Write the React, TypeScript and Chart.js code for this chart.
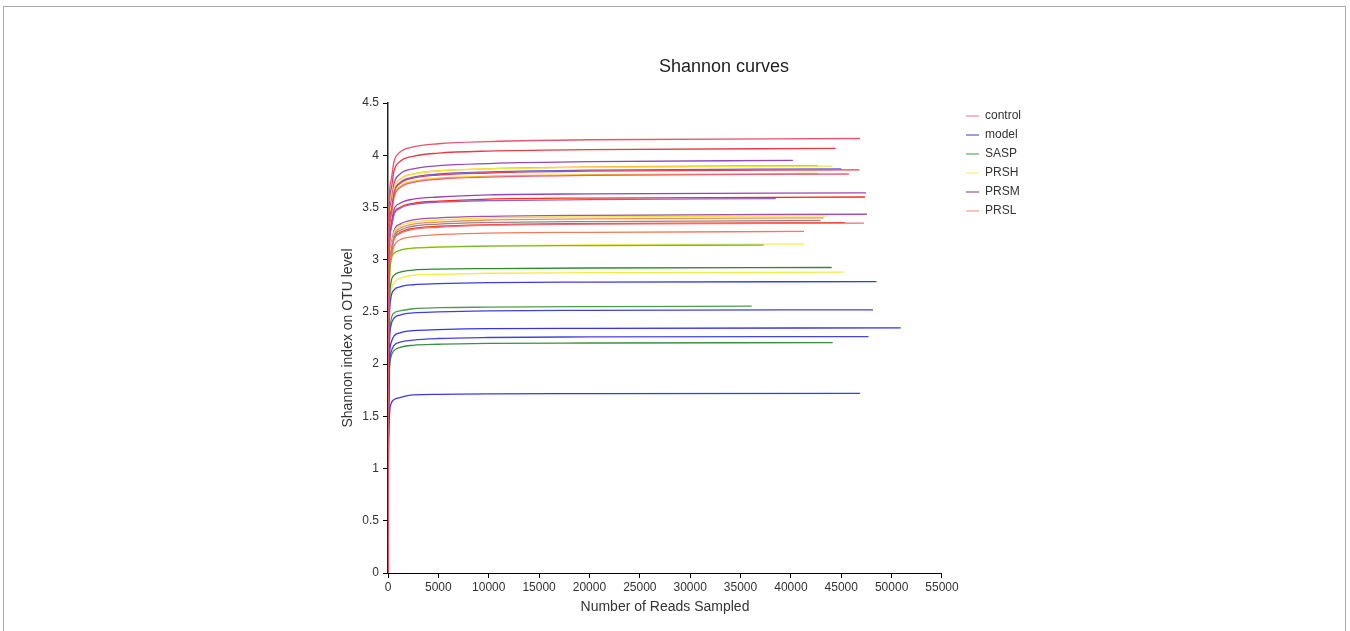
import React, { useEffect, useRef } from 'react';
import { Chart, registerables } from 'chart.js';

Chart.register(...registerables);

// ---------- data ----------
const groupNames = ['control', 'model', 'SASP', 'PRSH', 'PRSM', 'PRSL'];
const xTickValues = [0, 5000, 10000, 15000, 20000, 25000, 30000, 35000, 40000, 45000, 50000, 55000];
const yTickValues = [0, 0.5, 1, 1.5, 2, 2.5, 3, 3.5, 4, 4.5];

// rarefaction depths shared by every curve (the last point of each curve is its own depth)
const sampledReads = [0, 40, 120, 300, 600, 1200, 2500, 5000, 10000, 20000];

const controlDepth = [46850, 44450, 46800, 45750, 47250];
const controlShannon = [
  [0, 2.29, 3.54, 3.76, 3.94, 4.03, 4.08, 4.11, 4.13, 4.148, 4.16],
  [0, 2.24, 3.46, 3.67, 3.85, 3.94, 3.99, 4.02, 4.04, 4.053, 4.065],
  [0, 2.12, 3.28, 3.46, 3.64, 3.73, 3.78, 3.81, 3.83, 3.848, 3.86],
  [0, 2.1, 3.25, 3.42, 3.6, 3.69, 3.74, 3.77, 3.79, 3.808, 3.82],
  [0, 1.84, 2.85, 3.05, 3.19, 3.25, 3.29, 3.31, 3.33, 3.34, 3.35],
];

const modelDepth = [48500, 48150, 50900, 47700, 46850];
const modelShannon = [
  [0, 1.53, 2.37, 2.64, 2.71, 2.74, 2.76, 2.77, 2.78, 2.785, 2.79],
  [0, 1.39, 2.14, 2.37, 2.44, 2.47, 2.49, 2.5, 2.51, 2.515, 2.52],
  [0, 1.29, 2.0, 2.2, 2.27, 2.3, 2.32, 2.33, 2.34, 2.343, 2.347],
  [0, 1.25, 1.92, 2.11, 2.18, 2.21, 2.23, 2.245, 2.255, 2.26, 2.264],
  [0, 0.95, 1.46, 1.62, 1.66, 1.68, 1.705, 1.71, 1.715, 1.717, 1.72],
];

const saspDepth = [37300, 44050, 36100, 44150, 42950];
const saspShannon = [
  [0, 1.73, 2.67, 2.99, 3.06, 3.09, 3.11, 3.12, 3.13, 3.135, 3.14],
  [0, 1.61, 2.49, 2.78, 2.85, 2.88, 2.9, 2.91, 2.915, 2.92, 2.925],
  [0, 1.41, 2.17, 2.42, 2.49, 2.51, 2.53, 2.54, 2.545, 2.55, 2.555],
  [0, 1.21, 1.88, 2.07, 2.13, 2.16, 2.18, 2.19, 2.198, 2.202, 2.206],
  [0, 1.86, 2.87, 3.08, 3.22, 3.28, 3.32, 3.34, 3.355, 3.365, 3.375],
];

const prshDepth = [44150, 42650, 43650, 41300, 45250];
const prshShannon = [
  [0, 2.14, 3.31, 3.5, 3.68, 3.77, 3.82, 3.85, 3.87, 3.883, 3.895],
  [0, 2.1, 3.25, 3.43, 3.61, 3.7, 3.75, 3.78, 3.8, 3.813, 3.825],
  [0, 1.88, 2.91, 3.12, 3.26, 3.32, 3.36, 3.38, 3.4, 3.41, 3.42],
  [0, 1.73, 2.68, 2.98, 3.06, 3.09, 3.11, 3.125, 3.135, 3.143, 3.15],
  [0, 1.58, 2.45, 2.7, 2.78, 2.82, 2.85, 2.86, 2.87, 2.875, 2.88],
];

const prsmDepth = [40200, 45000, 47450, 38500, 47550];
const prsmShannon = [
  [0, 2.17, 3.36, 3.55, 3.73, 3.82, 3.87, 3.9, 3.92, 3.938, 3.95],
  [0, 2.13, 3.29, 3.47, 3.65, 3.74, 3.79, 3.82, 3.84, 3.858, 3.87],
  [0, 2.0, 3.09, 3.34, 3.48, 3.54, 3.58, 3.6, 3.62, 3.63, 3.64],
  [0, 1.97, 3.05, 3.29, 3.43, 3.49, 3.53, 3.55, 3.565, 3.575, 3.585],
  [0, 1.89, 2.92, 3.14, 3.28, 3.34, 3.38, 3.4, 3.415, 3.425, 3.435],
];

const prslDepth = [42650, 47350, 43250, 45350, 41300];
const prslShannon = [
  [0, 2.15, 3.32, 3.5, 3.68, 3.77, 3.82, 3.85, 3.87, 3.888, 3.9],
  [0, 1.98, 3.06, 3.3, 3.44, 3.5, 3.54, 3.56, 3.58, 3.59, 3.6],
  [0, 1.87, 2.89, 3.1, 3.24, 3.3, 3.34, 3.36, 3.38, 3.39, 3.4],
  [0, 1.85, 2.85, 3.06, 3.2, 3.26, 3.3, 3.32, 3.335, 3.345, 3.355],
  [0, 1.8, 2.78, 3.0, 3.13, 3.19, 3.22, 3.24, 3.255, 3.262, 3.27],
];

// ---------- styles ----------
const legendColors = ['#f08a90', '#5a5ad8', '#5faa5f', '#f4f07a', '#8a55b0', '#f4a080'];
const curveColors = [
  ['#e8546a', '#e83a48', '#e8404f', '#e8607a', '#e8707e'],
  ['#3c3ce6', '#4040e0', '#3434e8', '#4444dc', '#3a3ae4'],
  ['#7ab82a', '#2e8a2e', '#4c9e4c', '#3f8f3f', '#8a8a8a'],
  ['#f4e83a', '#f6c21c', '#f0e040', '#f6f05a', '#f4ea44'],
  ['#9548b8', '#6a5ae0', '#9a44b4', '#9a60c8', '#a050b0'],
  ['#ff9d1e', '#ff2a10', '#f08a66', '#ff3a1a', '#f07c5c'],
];

const FONT = '"Liberation Sans", Arial, sans-serif';

export default function App() {
  const canvasRef = useRef<HTMLCanvasElement | null>(null);

  useEffect(() => {
    const canvas = canvasRef.current;
    if (!canvas) return;
    Chart.defaults.font.family = FONT;

    const depths = [controlDepth, modelDepth, saspDepth, prshDepth, prsmDepth, prslDepth];
    const shannons = [controlShannon, modelShannon, saspShannon, prshShannon, prsmShannon, prslShannon];

    const datasets: any[] = [];
    groupNames.forEach((name, gi) => {
      depths[gi].forEach((depth, ci) => {
        const xs = [...sampledReads, depth];
        datasets.push({
          label: ci === 0 ? name : '',
          data: xs.map((x, k) => ({ x, y: shannons[gi][ci][k] })),
          borderColor: curveColors[gi][ci],
          backgroundColor: curveColors[gi][ci],
          borderWidth: 1.3,
          pointRadius: 0,
          fill: false,
          cubicInterpolationMode: 'monotone',
        });
      });
    });

    const chart = new Chart(canvas, {
      type: 'line',
      data: { datasets },
      options: {
        animation: false,
        responsive: false,
        maintainAspectRatio: false,
        events: [],
        layout: { padding: { left: 336, right: 238, top: 46, bottom: 11 } },
        plugins: {
          title: {
            display: true,
            text: 'Shannon curves',
            color: '#222',
            font: { size: 18, weight: 'normal', family: FONT },
            padding: { top: 10, bottom: 25.4 },
          },
          legend: {
            display: true,
            position: 'right',
            align: 'start',
            fullSize: false,
            labels: {
              usePointStyle: true,
              pointStyle: 'line',
              pointStyleWidth: 13,
              boxWidth: 13,
              padding: 7,
              color: '#333',
              font: { size: 12, family: FONT },
              generateLabels: () =>
                groupNames.map((name, i) => ({
                  text: name,
                  strokeStyle: legendColors[i],
                  fillStyle: legendColors[i],
                  lineWidth: 1.2,
                  pointStyle: 'line',
                  hidden: false,
                  datasetIndex: i * 5,
                  fontColor: '#333',
                })),
            },
          },
          tooltip: { enabled: false },
        },
        scales: {
          x: {
            type: 'linear',
            position: 'bottom',
            min: 0,
            max: 55000,
            afterBuildTicks: (s: any) => {
              s.ticks = xTickValues.map((v) => ({ value: v }));
            },
            afterFit: (s: any) => {
              s.height = 47;
            },
            grid: { display: true, drawOnChartArea: false, drawTicks: true, tickLength: 5, color: '#000' },
            border: { display: true, color: '#000', width: 1 },
            ticks: {
              color: '#333',
              padding: 2,
              maxRotation: 0,
              autoSkip: false,
              font: { size: 12, family: FONT },
              callback: (v: any) => String(v),
            },
            title: {
              display: true,
              text: 'Number of Reads Sampled',
              color: '#333',
              font: { size: 14, family: FONT },
              padding: { top: 4, bottom: 4 },
            },
          },
          y: {
            type: 'linear',
            position: 'left',
            min: 0,
            max: 4.5,
            afterBuildTicks: (s: any) => {
              s.ticks = yTickValues.map((v) => ({ value: v }));
            },
            afterFit: (s: any) => {
              s.width = 52;
            },
            grid: { display: true, drawOnChartArea: false, drawTicks: true, tickLength: 5, color: '#000' },
            border: { display: true, color: '#222', width: 1.5 },
            ticks: {
              color: '#333',
              padding: 4,
              autoSkip: false,
              font: { size: 12, family: FONT },
              callback: (v: any) => String(v),
            },
            title: {
              display: true,
              text: 'Shannon index on OTU level',
              color: '#333',
              font: { size: 14, family: FONT },
              padding: { top: 4, bottom: 4 },
            },
          },
          gapInner: {
            type: 'linear',
            position: 'right',
            weight: 1,
            display: true,
            grid: { display: false },
            border: { display: false },
            ticks: { display: false },
            afterFit: (s: any) => {
              s.width = 17;
            },
          },
          gapOuter: {
            type: 'linear',
            position: 'right',
            weight: 2000,
            display: true,
            grid: { display: false },
            border: { display: false },
            ticks: { display: false },
            afterFit: (s: any) => {
              s.width = 81;
            },
          },
        },
      } as any,
    });

    return () => chart.destroy();
  }, []);

  return (
    <div style={{ position: 'fixed', left: 0, top: 0, width: 1350, height: 631, overflow: 'hidden', background: '#fff' }}>
      <div
        style={{
          position: 'absolute',
          left: 3,
          top: 6,
          width: 1343,
          height: 700,
          border: '1px solid #a9a9a9',
          boxSizing: 'border-box',
        }}
      />
      <canvas ref={canvasRef} width={1350} height={631} style={{ position: 'absolute', left: 0, top: 0, width: 1350, height: 631 }} />
    </div>
  );
}
